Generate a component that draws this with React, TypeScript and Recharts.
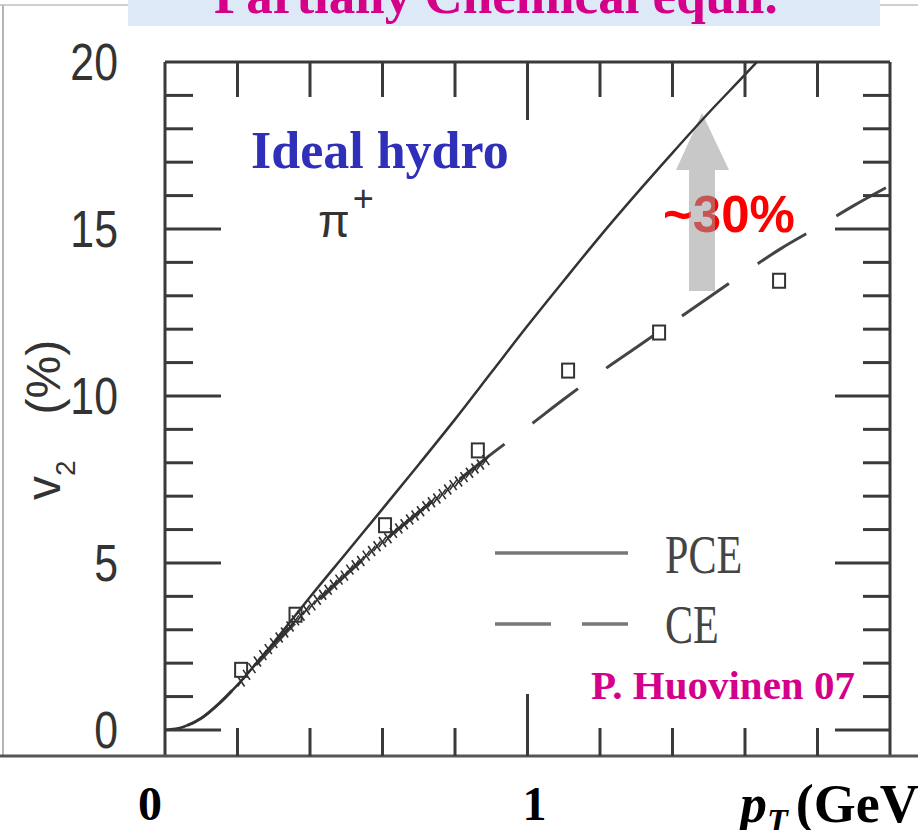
import React from 'react';
import { ComposedChart, Line, Scatter, XAxis, YAxis, Customized } from 'recharts';

// hydro curves, v2 in percent vs pT in GeV
const PCE_PT = [0, 0.05, 0.1, 0.15, 0.2, 0.25, 0.3, 0.35, 0.4, 0.5, 0.6, 0.7, 0.8, 0.9, 1.0, 1.1, 1.2, 1.3, 1.4, 1.5, 1.6, 1.65];
const PCE_V2 = [0, 0.09, 0.35, 0.8, 1.35, 1.97, 2.62, 3.3, 3.98, 5.3, 6.62, 7.95, 9.3, 10.7, 12.1, 13.45, 14.78, 16.05, 17.28, 18.48, 19.62, 20.2];

const CE_PT = [0, 0.05, 0.1, 0.15, 0.2, 0.25, 0.3, 0.35, 0.4, 0.5, 0.6, 0.7, 0.8, 0.9, 1.0, 1.1, 1.2, 1.3, 1.4, 1.5, 1.6, 1.7, 1.8, 1.9, 2.0];
const CE_V2 = [0, 0.09, 0.35, 0.8, 1.35, 1.93, 2.52, 3.1, 3.62, 4.65, 5.62, 6.52, 7.4, 8.26, 9.07, 9.9, 10.7, 11.45, 12.2, 12.95, 13.7, 14.42, 15.05, 15.7, 16.3];

// open squares
const SQ_PT = [0.21, 0.36, 0.607, 0.863, 1.112, 1.363, 1.694];
const SQ_V2 = [1.8, 3.45, 6.13, 8.37, 10.76, 11.9, 13.45];

// fine-binned points (the hatched band)
const FINE_PT = [0.21, 0.225, 0.24, 0.255, 0.27, 0.285, 0.3, 0.315, 0.33, 0.345, 0.36, 0.375, 0.39, 0.405, 0.42, 0.435, 0.45, 0.465, 0.48, 0.495, 0.51, 0.525, 0.54, 0.555, 0.57, 0.585, 0.6, 0.615, 0.63, 0.645, 0.66, 0.675, 0.69, 0.705, 0.72, 0.735, 0.75, 0.765, 0.78, 0.795, 0.81, 0.825, 0.84, 0.855, 0.87, 0.885];
const FINE_V2 = [1.45, 1.65, 1.85, 2.05, 2.24, 2.42, 2.6, 2.77, 2.92, 3.1, 3.28, 3.42, 3.6, 3.73, 3.9, 4.05, 4.2, 4.35, 4.5, 4.62, 4.8, 4.93, 5.06, 5.22, 5.36, 5.5, 5.63, 5.74, 5.9, 6.03, 6.16, 6.3, 6.42, 6.55, 6.7, 6.82, 6.93, 7.06, 7.2, 7.33, 7.44, 7.57, 7.7, 7.83, 7.95, 8.08];

const X_TICKS = [0, 0.2, 0.4, 0.6, 0.8, 1.0, 1.2, 1.4, 1.6, 1.8, 2.0];
const Y_TICKS = [0, 1, 2, 3, 4, 5, 6, 7, 8, 9, 10, 11, 12, 13, 14, 15, 16, 17, 18, 19, 20];
const X_LABELS: Record<number, string> = { 0: '0', 1: '1' };

const toRows = (xs: number[], ys: number[]) => xs.map((pT, i) => ({ pT, v2: ys[i] }));
const pceData = toRows(PCE_PT, PCE_V2);
const ceData = toRows(CE_PT, CE_V2);
const sqData = toRows(SQ_PT, SQ_V2);
const fineData = toRows(FINE_PT, FINE_V2);

const LEFT = 165;
const RIGHT = 890;
const TOP = 62;
const BOTTOM = 756;
const INK = '#3a3a3a';

const YTick = (props: any) => {
  const { y, payload } = props;
  const v = payload.value;
  const major = v % 5 === 0;
  return (
    <g>
      {v !== 20 && (
        <>
          <line x1={LEFT} x2={LEFT + (major ? 56 : 28)} y1={y} y2={y} stroke={INK} strokeWidth={3} />
          <line x1={RIGHT} x2={RIGHT - (major ? 55 : 27)} y1={y} y2={y} stroke={INK} strokeWidth={3} />
        </>
      )}
      {major && (
        <text
          transform={`translate(118 ${y}) scale(0.84 1)`}
          textAnchor="end"
          dy="0.36em"
          fontFamily="Liberation Sans, Arial, sans-serif"
          fontSize={51}
          fill="#333"
        >
          {v}
        </text>
      )}
    </g>
  );
};

const XTick = (props: any) => {
  const { x, payload } = props;
  const v = payload.value;
  const major = Math.abs(v - 1) < 1e-6;
  const edge = v === 0 || Math.abs(v - 2) < 1e-6;
  const label = X_LABELS[v];
  return (
    <g>
      {!edge && (
        <>
          <line x1={x} x2={x} y1={BOTTOM} y2={BOTTOM - (major ? 62 : 28)} stroke={INK} strokeWidth={3} />
          <line x1={x} x2={x} y1={TOP} y2={TOP + (major ? 58 : 35)} stroke={INK} strokeWidth={3} />
        </>
      )}
      {label !== undefined && (
        <text
          x={x + (v === 0 ? -15 : 7)}
          y={820}
          textAnchor="middle"
          fontFamily="Liberation Serif, Times New Roman, serif"
          fontWeight="bold"
          fontSize={48}
          fill="#000"
        >
          {label}
        </text>
      )}
    </g>
  );
};

const Square = (props: any) => (
  <rect x={props.cx - 6} y={props.cy - 7} width={12} height={14} fill="none" stroke="#333" strokeWidth={2} />
);

const Cross = (props: any) => {
  const { cx, cy } = props;
  return (
    <g stroke="#2e2e2e" strokeWidth={1.6}>
      <line x1={cx - 3.5} y1={cy - 5} x2={cx + 3.5} y2={cy + 5} />
      <line x1={cx - 3.5} y1={cy + 5} x2={cx + 3.5} y2={cy - 5} />
    </g>
  );
};

const Overlay = () => (
  <g>
    {/* slide border + banner */}
    <line x1={0} x2={918} y1={5} y2={5} stroke="#cfcfcf" strokeWidth={2} />
    <line x1={3} x2={3} y1={5} y2={BOTTOM} stroke="#b5b5b5" strokeWidth={2} />
    <rect x={128} y={0} width={752} height={26} fill="#dde9f6" />
    <text x={214} y={13} fontFamily="Liberation Serif, serif" fontWeight="bold" fontSize={53} fill="#d4008a">
      Partially Chemical equil.
    </text>

    {/* frame */}
    <line x1={LEFT} x2={RIGHT} y1={TOP} y2={TOP} stroke={INK} strokeWidth={3} />
    <line x1={LEFT} x2={LEFT} y1={TOP} y2={BOTTOM} stroke={INK} strokeWidth={3} />
    <line x1={RIGHT} x2={RIGHT} y1={TOP} y2={BOTTOM} stroke={INK} strokeWidth={3} />
    <line x1={0} x2={918} y1={BOTTOM} y2={BOTTOM} stroke="#555" strokeWidth={3} />

    {/* axis titles */}
    <text transform="translate(60 500) rotate(-90)" fontFamily="Liberation Sans, Arial, sans-serif" fill="#333">
      <tspan fontSize={48}>v</tspan>
      <tspan fontSize={28} dy={15}>2</tspan>
      <tspan fontSize={48} dx={46} dy={-15}>(%)</tspan>
    </text>
    <text x={740} y={822} fontFamily="Liberation Serif, serif" fontWeight="bold" fill="#000">
      <tspan fontSize={54} fontStyle="italic">p</tspan>
      <tspan fontSize={34} fontStyle="italic" dy={10}>T</tspan>
      <tspan fontSize={54} dx={8} dy={-10}>(GeV)</tspan>
    </text>

    {/* labels */}
    <text x={251} y={168} fontFamily="Liberation Serif, serif" fontWeight="bold" fontSize={52} fill="#2f2fb9">
      Ideal hydro
    </text>
    <text x={318} y={237} fontFamily="Liberation Sans, Arial, sans-serif" fill="#333">
      <tspan fontSize={46}>π</tspan>
      <tspan fontSize={36} dx={3} dy={-26}>+</tspan>
    </text>
    <text x={663} y={232} fontFamily="Liberation Sans, Arial, sans-serif" fontWeight="bold" fontSize={51} fill="#ff0000">
      ~30%
    </text>
    <path d="M689,291 L689,170 L676,170 L702,113 L729,170 L715,170 L715,291 Z" fill="#9a9a9a" fillOpacity={0.55} />
    <text x={591} y={699} fontFamily="Liberation Serif, serif" fontWeight="bold" fontSize={41} fill="#d4008c">
      P. Huovinen 07
    </text>

    {/* legend */}
    <line x1={495} x2={628} y1={553} y2={553} stroke="#777" strokeWidth={3.5} />
    <line x1={495} x2={551} y1={624} y2={624} stroke="#777" strokeWidth={3.5} />
    <line x1={582} x2={628} y1={624} y2={624} stroke="#777" strokeWidth={3.5} />
    <text transform="translate(665 573) scale(0.78 1)" fontFamily="Liberation Serif, serif" fontSize={54} fill="#444">
      PCE
    </text>
    <text transform="translate(665 643) scale(0.78 1)" fontFamily="Liberation Serif, serif" fontSize={54} fill="#444">
      CE
    </text>
  </g>
);

export default function App() {
  return (
    <div style={{ position: 'absolute', left: 0, top: 0, background: '#fff' }}>
      <ComposedChart width={918} height={830} margin={{ top: TOP, right: 918 - RIGHT, bottom: 830 - BOTTOM - 40, left: LEFT - 60 }}>
        <XAxis
          dataKey="pT"
          type="number"
          domain={[0, 2]}
          ticks={X_TICKS}
          interval={0}
          allowDataOverflow
          axisLine={false}
          tickLine={false}
          height={40}
          tick={(p: any) => <XTick {...p} />}
        />
        <YAxis
          type="number"
          domain={[-0.78, 20]}
          ticks={Y_TICKS}
          interval={0}
          allowDataOverflow
          axisLine={false}
          tickLine={false}
          width={60}
          tick={(p: any) => <YTick {...p} />}
        />
        <Line data={ceData} dataKey="v2" type="monotone" stroke="#444" strokeWidth={3} strokeDasharray="57 35" strokeDashoffset={69} dot={false} isAnimationActive={false} />
        <Line data={pceData} dataKey="v2" type="monotone" stroke="#333" strokeWidth={2.5} dot={false} isAnimationActive={false} />
        <Scatter data={fineData} dataKey="v2" shape={(p: any) => <Cross {...p} />} isAnimationActive={false} />
        <Scatter data={sqData} dataKey="v2" shape={(p: any) => <Square {...p} />} isAnimationActive={false} />
        <Customized component={Overlay} />
      </ComposedChart>
    </div>
  );
}
